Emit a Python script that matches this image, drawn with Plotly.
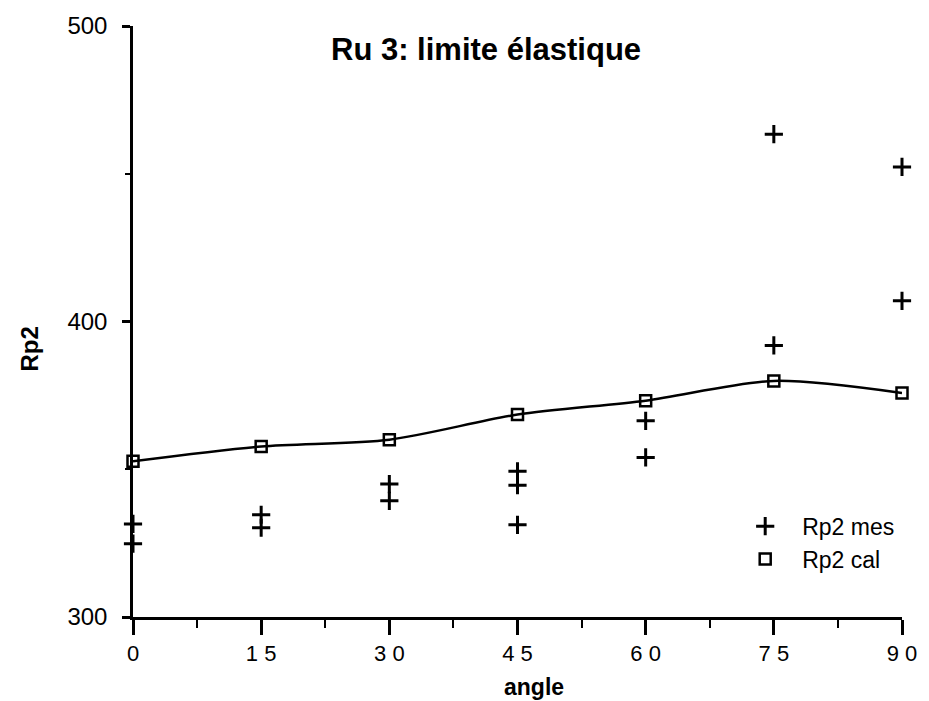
import plotly.graph_objects as go

# Data
mes_angle = [0, 0, 15, 15, 30, 30, 45, 45, 45, 60, 60, 75, 75, 90, 90]
mes_rp2 = [331.5, 324.8, 334.6, 330.2, 345, 339.3, 349.3, 344.6, 331.2, 366.4, 354, 463.4, 391.9, 452.3, 407]
cal_angle = [0, 15, 30, 45, 60, 75, 90]
cal_rp2 = [352.7, 357.7, 360, 368.5, 373.2, 379.9, 375.8]
x_ticks = [0, 15, 30, 45, 60, 75, 90]
x_ticklabels = ["0", "1\u20085", "3\u20080", "4\u20085", "6\u20080", "7\u20085", "9\u20080"]
y_ticks = [300, 400, 500]

FONT = "Liberation Sans, Arial, Helvetica, sans-serif"

fig = go.Figure()

fig.add_trace(go.Scatter(
    x=cal_angle, y=cal_rp2, mode="lines",
    line=dict(color="black", width=2.5, shape="spline", smoothing=0.8),
    showlegend=False, hoverinfo="skip"))

fig.add_trace(go.Scatter(
    x=mes_angle, y=mes_rp2, mode="markers", name="Rp2 mes",
    marker=dict(symbol="cross-thin", size=13, color="black",
                line=dict(color="black", width=3)),
    cliponaxis=False))

fig.add_trace(go.Scatter(
    x=cal_angle, y=cal_rp2, mode="markers", name="Rp2 cal",
    marker=dict(symbol="square-open", size=11, color="black",
                line=dict(color="black", width=2.5)),
    cliponaxis=False))

fig.update_layout(
    width=929, height=701,
    margin=dict(l=133, r=18, t=21, b=84),
    paper_bgcolor="white", plot_bgcolor="white",
    font=dict(family=FONT, color="black", size=24),
    showlegend=True,
    legend=dict(x=0.774, y=0.19, xanchor="left", yanchor="top",
                bgcolor="rgba(0,0,0,0)", font=dict(size=23),
                itemwidth=64, tracegroupgap=0),
    annotations=[
        dict(text="<b>Ru 3: limite élastique</b>", x=0.459, y=0.961,
             xref="paper", yref="paper", showarrow=False,
             xanchor="center", yanchor="middle",
             font=dict(size=31, family=FONT)),
        dict(text="<b>Rp2</b>", x=-0.135, y=0.453, textangle=-90,
             xref="paper", yref="paper", showarrow=False,
             xanchor="center", yanchor="middle",
             font=dict(size=24, family=FONT)),
        dict(text="<b>angle</b>", x=0.522, y=-0.119,
             xref="paper", yref="paper", showarrow=False,
             xanchor="center", yanchor="middle",
             font=dict(size=23, family=FONT)),
    ],
)

fig.update_xaxes(
    range=[0, 90], tickvals=x_ticks, ticktext=x_ticklabels,
    showline=True, linecolor="black", linewidth=2.5,
    ticks="outside", ticklen=15, tickwidth=2.5, tickcolor="black",
    minor=dict(ticks="outside", ticklen=8, tickwidth=2, tickcolor="black", dtick=7.5),
    showgrid=False, zeroline=False,
    tickfont=dict(size=22), ticklabeloverflow="allow",
)
fig.update_yaxes(
    range=[300, 500], tickvals=y_ticks,
    showline=True, linecolor="black", linewidth=2.5,
    ticks="outside", ticklen=8, tickwidth=2.5, tickcolor="black",
    minor=dict(ticks="outside", ticklen=5, tickwidth=2, tickcolor="black", dtick=50),
    showgrid=False, zeroline=False,
    tickfont=dict(size=24), ticklabelstandoff=10, ticklabeloverflow="allow",
)

fig.write_html("out.html", config={"displayModeBar": False},
               post_script="document.body.style.margin='0';")
